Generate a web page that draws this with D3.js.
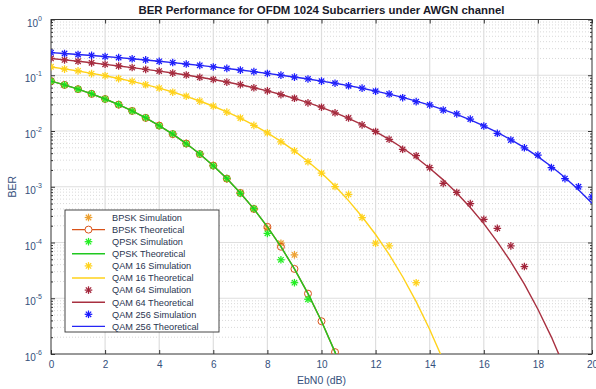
<!DOCTYPE html>
<html>
<head>
<meta charset="utf-8">
<script src="https://cdn.jsdelivr.net/npm/d3@7"></script>
<style>
  body { margin: 0; background: #fff; }
  text { font-family: "Liberation Sans", Arial, sans-serif; }
</style>
</head>
<body>
<svg id="chart" width="596" height="389"></svg>
<script>
// Eb/N0 grid (dB), every series is indexed on it
var ebn0 = [0, 0.5, 1, 1.5, 2, 2.5, 3, 3.5, 4, 4.5, 5, 5.5, 6, 6.5, 7, 7.5, 8, 8.5, 9, 9.5,
    10, 10.5, 11, 11.5, 12, 12.5, 13, 13.5, 14, 14.5, 15, 15.5, 16, 16.5, 17, 17.5, 18, 18.5, 19, 19.5, 20];

var bpskSim = [0.0789, 0.0668, 0.0565, 0.0461, 0.0377, 0.0296, 0.0231, 0.0170, 0.0126, 0.0087,
    0.0060, 0.00382, 0.00242, 0.00138, 7.8e-4, 3.95e-4, 1.8e-4, 9.7e-5, 6.0e-5];
var bpskTheory = [0.0786, 0.0671, 0.0563, 0.0464, 0.0375, 0.0297, 0.0229, 0.0172, 0.0125, 0.0088,
    0.00595, 0.00386, 0.00239, 0.0014, 7.73e-4, 4.01e-4, 1.91e-4, 8.4e-5, 3.36e-5, 1.21e-5,
    3.87e-6, 1.08e-6, 2.6e-7];
var qpskSim = [0.0783, 0.0673, 0.0561, 0.0466, 0.0373, 0.0298, 0.0228, 0.0173, 0.0124, 0.0089,
    0.0059, 0.00389, 0.00237, 0.00141, 7.6e-4, 4.05e-4, 1.46e-4, 4.9e-5, 1.9e-5, 9.6e-6];
var qpskTheory = [0.0786, 0.0671, 0.0563, 0.0464, 0.0375, 0.0297, 0.0229, 0.0172, 0.0125, 0.0088,
    0.00595, 0.00386, 0.00239, 0.0014, 7.73e-4, 4.01e-4, 1.91e-4, 8.4e-5, 3.36e-5, 1.21e-5,
    3.87e-6, 1.08e-6, 2.6e-7];
var qam16Sim = [0.142, 0.129, 0.120, 0.107, 0.0981, 0.0871, 0.0778, 0.0675, 0.0589, 0.0497,
    0.0421, 0.0343, 0.0280, 0.0218, 0.0171, 0.0126, 0.0093, 0.0064, 0.0044, 0.00281,
    0.00175, 0.00101, 7.3e-4, 2.8e-4, 9.7e-5, 8.7e-5, null, 1.9e-5];
var qam16Theory = [0.141, 0.130, 0.119, 0.108, 0.0978, 0.0874, 0.0775, 0.0678, 0.0586, 0.0500,
    0.0419, 0.0345, 0.0278, 0.0220, 0.0170, 0.0127, 0.00924, 0.0065, 0.00439, 0.00284,
    0.00176, 0.00103, 5.64e-4, 2.9e-4, 1.39e-4, 6.1e-5, 2.43e-5, 8.7e-6, 2.76e-6, 7.7e-7];
var qam64Sim = [0.2003, 0.1884, 0.1782, 0.1668, 0.1573, 0.1466, 0.1375, 0.1274, 0.1189, 0.1093,
    0.1011, 0.0919, 0.0841, 0.0753, 0.0679, 0.0596, 0.0525, 0.0450, 0.0387, 0.0320,
    0.0267, 0.0212, 0.0171, 0.0129, 0.0098, 0.0071, 0.0047, 0.0036, 0.0022, 0.00115,
    7.9e-4, 5.0e-4, 2.6e-4, 1.8e-4, 8.7e-5, 3.7e-5];
var qam64Theory = [0.1999, 0.1887, 0.1779, 0.1672, 0.1570, 0.1469, 0.1372, 0.1277, 0.1186, 0.1096,
    0.1008, 0.0922, 0.0838, 0.0756, 0.0676, 0.0598, 0.0523, 0.0452, 0.0385, 0.0322,
    0.0265, 0.0214, 0.0169, 0.0130, 0.00972, 0.00706, 0.00495, 0.00334, 0.00215, 0.00133,
    7.74e-4, 4.24e-4, 2.18e-4, 1.03e-4, 4.5e-5, 1.79e-5, 6.36e-6, 2.01e-6, 5.5e-7];
var qam256Sim = [0.2538, 0.2455, 0.2356, 0.2268, 0.2167, 0.2077, 0.1974, 0.1884, 0.1780, 0.1691,
    0.1590, 0.1505, 0.1409, 0.1327, 0.1237, 0.1162, 0.1076, 0.1005, 0.0926, 0.0859,
    0.0783, 0.0720, 0.0647, 0.0587, 0.0517, 0.0461, 0.0396, 0.0336, 0.0293, 0.0238,
    0.0202, 0.0164, 0.0123, 0.0091, 0.0069, 0.0050, 0.0037, 0.0022, 0.0014, 0.0010, 6.6e-4];
var qam256Theory = [0.2541, 0.2452, 0.2359, 0.2265, 0.2170, 0.2074, 0.1977, 0.1881, 0.1783, 0.1688,
    0.1593, 0.1502, 0.1412, 0.1324, 0.1240, 0.1159, 0.1079, 0.1002, 0.0929, 0.0856,
    0.0786, 0.0717, 0.0650, 0.0584, 0.0520, 0.0459, 0.0400, 0.0344, 0.0291, 0.0242,
    0.0198, 0.0158, 0.0124, 0.00945, 0.0070, 0.00503, 0.00347, 0.00231, 0.00147, 8.85e-4, 5.05e-4];

var xTicks = [0, 2, 4, 6, 8, 10, 12, 14, 16, 18, 20];
var yTicks = [1e-6, 1e-5, 1e-4, 1e-3, 1e-2, 1e-1, 1];
var yExps = ["-6", "-5", "-4", "-3", "-2", "-1", "0"];

// legend order = draw order
var series = [
    { name: "BPSK Simulation", values: bpskSim, color: "#EDA030", kind: "star" },
    { name: "BPSK Theoretical", values: bpskTheory, color: "#D95319", kind: "lineCircle" },
    { name: "QPSK Simulation", values: qpskSim, color: "#22EE22", kind: "star" },
    { name: "QPSK Theoretical", values: qpskTheory, color: "#20C820", kind: "line" },
    { name: "QAM 16 Simulation", values: qam16Sim, color: "#FFD21A", kind: "star" },
    { name: "QAM 16 Theoretical", values: qam16Theory, color: "#FFD21A", kind: "line" },
    { name: "QAM 64 Simulation", values: qam64Sim, color: "#A2243A", kind: "star" },
    { name: "QAM 64 Theoretical", values: qam64Theory, color: "#A83040", kind: "line" },
    { name: "QAM 256 Simulation", values: qam256Sim, color: "#1818FF", kind: "star" },
    { name: "QAM 256 Theoretical", values: qam256Theory, color: "#2525F5", kind: "line" }
];

var svgWidth = 596, svgHeight = 389;
var margin = { top: 19.5, right: 4, bottom: 35, left: 51 },
    width = svgWidth - margin.left - margin.right,
    height = svgHeight - margin.top - margin.bottom;

var svg = d3.select("#chart");
var tickColor = "#34507c";

var xScale = d3.scaleLinear().domain([0, 20]).range([0, width]);
var yScale = d3.scaleLog().domain([1e-6, 1]).range([height, 0]);

svg.append("defs").append("clipPath").attr("id", "plotClip")
    .append("rect").attr("width", width).attr("height", height);

var g = svg.append("g")
    .attr("transform", "translate(" + margin.left + "," + margin.top + ")");

// minor log ticks
var minorTicks = [];
yTicks.slice(0, -1).forEach(function(t) {
    for (var m = 2; m <= 9; m++) minorTicks.push(t * m);
});

// grid
g.append("g").selectAll("line.minor").data(minorTicks).enter().append("line")
    .attr("x1", 0).attr("x2", width)
    .attr("y1", function(d) { return yScale(d); }).attr("y2", function(d) { return yScale(d); })
    .attr("stroke", "#cfcfcf").attr("stroke-width", 0.8).attr("stroke-dasharray", "1,2");
g.append("g").selectAll("line.gx").data(xTicks.slice(1, -1)).enter().append("line")
    .attr("x1", function(d) { return xScale(d); }).attr("x2", function(d) { return xScale(d); })
    .attr("y1", 0).attr("y2", height)
    .attr("stroke", "#dedede").attr("stroke-width", 1.2);
g.append("g").selectAll("line.gy").data(yTicks.slice(1, -1)).enter().append("line")
    .attr("x1", 0).attr("x2", width)
    .attr("y1", function(d) { return yScale(d); }).attr("y2", function(d) { return yScale(d); })
    .attr("stroke", "#dedede").attr("stroke-width", 1.2);

// axes
function styleAxis(sel) {
    sel.select(".domain").remove();
    sel.selectAll(".tick line").attr("stroke", "#333");
}
g.append("g").attr("transform", "translate(0," + height + ")")
    .call(d3.axisBottom(xScale).tickValues(xTicks).tickSizeInner(-4).tickSizeOuter(0).tickPadding(7))
    .call(styleAxis)
    .selectAll("text").attr("fill", tickColor).style("font-size", "10px");
g.append("g")
    .call(d3.axisTop(xScale).tickValues(xTicks).tickSizeInner(-4).tickSizeOuter(0).tickFormat(""))
    .call(styleAxis);
g.append("g")
    .call(d3.axisLeft(yScale).tickValues(yTicks).tickSizeInner(-4).tickSizeOuter(0).tickFormat(""))
    .call(styleAxis);
g.append("g")
    .call(d3.axisLeft(yScale).tickValues(minorTicks).tickSizeInner(-2).tickSizeOuter(0).tickFormat(""))
    .call(styleAxis);
g.append("g").attr("transform", "translate(" + width + ",0)")
    .call(d3.axisRight(yScale).tickValues(yTicks).tickSizeInner(-4).tickSizeOuter(0).tickFormat(""))
    .call(styleAxis);
g.append("g").attr("transform", "translate(" + width + ",0)")
    .call(d3.axisRight(yScale).tickValues(minorTicks).tickSizeInner(-2).tickSizeOuter(0).tickFormat(""))
    .call(styleAxis);

// y tick labels 10^n
var yLab = g.append("g").selectAll("text").data(yTicks).enter().append("text")
    .attr("x", -9)
    .attr("y", function(d) { return yScale(d) + 7; })
    .attr("text-anchor", "end")
    .attr("fill", tickColor)
    .style("font-size", "10px");
yLab.append("tspan").text("10");
yLab.append("tspan").attr("dy", -6).style("font-size", "7px")
    .text(function(d, i) { return yExps[i]; });

// box
g.append("rect").attr("width", width).attr("height", height)
    .attr("fill", "none").attr("stroke", "#333").attr("stroke-width", 1);

// marker helpers
function drawStar(sel, color) {
    var r = 3.8, q = 2.7;
    sel.append("line").attr("x1", -r).attr("x2", r).attr("y1", 0).attr("y2", 0);
    sel.append("line").attr("x1", 0).attr("x2", 0).attr("y1", -r).attr("y2", r);
    sel.append("line").attr("x1", -q).attr("x2", q).attr("y1", -q).attr("y2", q);
    sel.append("line").attr("x1", -q).attr("x2", q).attr("y1", q).attr("y2", -q);
    sel.attr("stroke", color).attr("stroke-width", 1.25);
}

var lineGen = d3.line()
    .x(function(d) { return xScale(d.x); })
    .y(function(d) { return yScale(d.y); });

var plot = g.append("g").attr("clip-path", "url(#plotClip)");

series.forEach(function(s) {
    var pts = s.values.map(function(v, i) { return { x: ebn0[i], y: v }; })
        .filter(function(d) { return d.y !== null; });
    if (s.kind === "star") {
        plot.append("g").selectAll("g").data(pts).enter().append("g")
            .attr("transform", function(d) { return "translate(" + xScale(d.x) + "," + yScale(d.y) + ")"; })
            .each(function() { drawStar(d3.select(this), s.color); });
    } else {
        plot.append("path").datum(pts)
            .attr("d", lineGen)
            .attr("fill", "none")
            .attr("stroke", s.color)
            .attr("stroke-width", 1.4);
        if (s.kind === "lineCircle") {
            plot.append("g").selectAll("circle")
                .data(pts.filter(function(d) { return d.y >= 1e-6; }))
                .enter().append("circle")
                .attr("cx", function(d) { return xScale(d.x); })
                .attr("cy", function(d) { return yScale(d.y); })
                .attr("r", 3.5)
                .attr("fill", "none")
                .attr("stroke", s.color)
                .attr("stroke-width", 1);
        }
    }
});

// legend
var legend = svg.append("g").attr("transform", "translate(65,210)");
legend.append("rect").attr("width", 154).attr("height", 122)
    .attr("fill", "#fff").attr("stroke", "#333").attr("stroke-width", 0.9);
series.forEach(function(s, i) {
    var row = legend.append("g").attr("transform", "translate(0," + (7.5 + i * 12.1) + ")");
    if (s.kind === "star") {
        drawStar(row.append("g").attr("transform", "translate(23.5,0)"), s.color);
    } else {
        row.append("line").attr("x1", 7).attr("x2", 40).attr("y1", 0).attr("y2", 0)
            .attr("stroke", s.color).attr("stroke-width", 1.4);
        if (s.kind === "lineCircle") {
            row.append("circle").attr("cx", 23.5).attr("cy", 0).attr("r", 3.5)
                .attr("fill", "#fff").attr("stroke", s.color);
        }
    }
    row.append("text").attr("x", 47).attr("y", 3.3)
        .attr("fill", "#2a3550").style("font-size", "9.2px")
        .text(s.name);
});

// title and axis labels
svg.append("text")
    .attr("x", margin.left + width / 2).attr("y", 14)
    .attr("text-anchor", "middle")
    .attr("fill", "#1a1a2a")
    .style("font-size", "11.4px").style("font-weight", "bold")
    .text("BER Performance for OFDM 1024 Subcarriers under AWGN channel");

svg.append("text")
    .attr("x", margin.left + width / 2).attr("y", 384)
    .attr("text-anchor", "middle")
    .attr("fill", tickColor)
    .style("font-size", "10.5px")
    .text("EbN0 (dB)");

svg.append("text")
    .attr("transform", "translate(16," + (margin.top + height / 2) + ") rotate(-90)")
    .attr("text-anchor", "middle")
    .attr("fill", tickColor)
    .style("font-size", "10.5px")
    .text("BER");
</script>
</body>
</html>
